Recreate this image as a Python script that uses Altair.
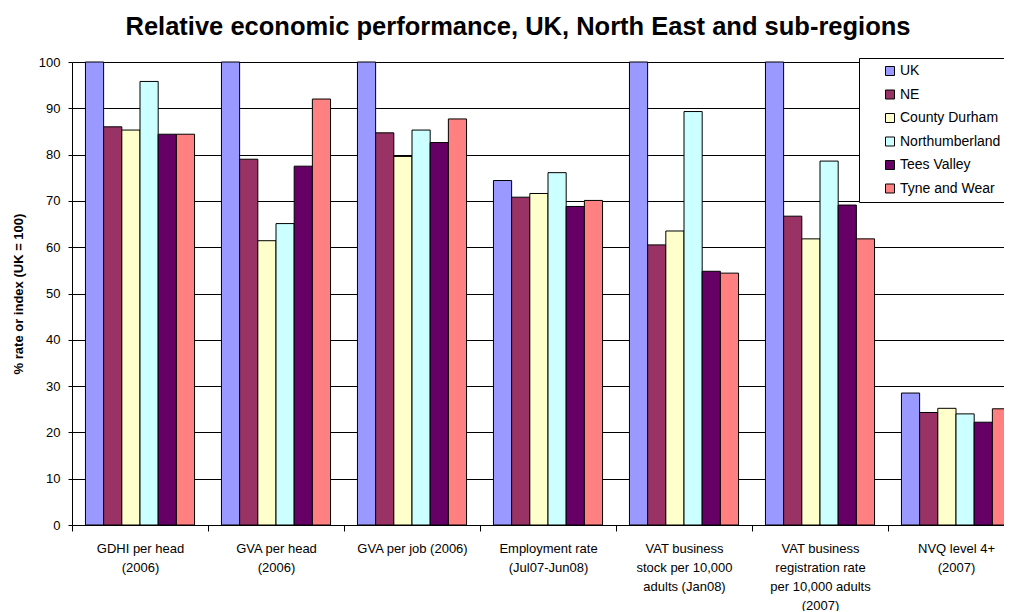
import altair as alt
import pandas as pd

categories = [
    "GDHI per head|(2006)",
    "GVA per head|(2006)",
    "GVA per job (2006)",
    "Employment rate|(Jul07-Jun08)",
    "VAT business|stock per 10,000|adults (Jan08)",
    "VAT business|registration rate|per 10,000 adults|(2007)",
    "NVQ level 4+|(2007)",
]
series = ["UK", "NE", "County Durham", "Northumberland", "Tees Valley", "Tyne and Wear"]
colors = ["#9999FF", "#993366", "#FFFFCC", "#CCFFFF", "#660066", "#FF8080"]

uk = [100, 100, 100, 74.4, 100, 100, 28.5]
ne = [86.0, 79.0, 84.7, 70.8, 60.5, 66.7, 24.3]
county_durham = [85.3, 61.4, 79.6, 71.6, 63.5, 61.8, 25.2]
northumberland = [95.8, 65.1, 85.3, 76.1, 89.3, 78.6, 24.0]
tees_valley = [84.4, 77.5, 82.6, 68.8, 54.8, 69.1, 22.2]
tyne_and_wear = [84.4, 92.0, 87.7, 70.1, 54.4, 61.8, 25.1]

values = [uk, ne, county_durham, northumberland, tees_valley, tyne_and_wear]
rows = []
for s, vals in zip(series, values):
    for c, v in zip(categories, vals):
        rows.append({"category": c, "series": s, "value": v})
df = pd.DataFrame(rows)

FONT = "Liberation Sans"

chart = (
    alt.Chart(df)
    .mark_bar(stroke="black", strokeWidth=1)
    .encode(
        x=alt.X(
            "category:N",
            sort=categories,
            scale=alt.Scale(paddingInner=0, paddingOuter=0, range=[0, 952]),
            axis=alt.Axis(
                title=None,
                labelAngle=0,
                labelExpr="split(datum.label, '|')",
                labelFont=FONT,
                labelFontSize=13,
                labelLineHeight=19,
                labelColor="black",
                labelPadding=11,
                labelBaseline="top",
                tickBand="extent",
                tickColor="black",
                tickSize=6,
                domainColor="black",
                grid=False,
            ),
        ),
        xOffset=alt.XOffset(
            "series:N",
            sort=series,
            scale=alt.Scale(paddingInner=0, paddingOuter=0.74),
        ),
        y=alt.Y(
            "value:Q",
            scale=alt.Scale(domain=[0, 100], nice=False),
            axis=alt.Axis(
                title="% rate or index (UK = 100)",
                titleFont=FONT,
                titleFontSize=13,
                titleFontWeight="bold",
                titleColor="black",
                titlePadding=13,
                values=list(range(0, 101, 10)),
                labelFont=FONT,
                labelFontSize=13,
                labelColor="black",
                labelPadding=8,
                tickColor="black",
                tickSize=4,
                domainColor="black",
                gridColor="black",
                gridWidth=1,
                gridOpacity=1,
            ),
        ),
        color=alt.Color(
            "series:N",
            sort=series,
            scale=alt.Scale(domain=series, range=colors),
            legend=alt.Legend(
                title=None,
                orient="none",
                legendX=787,
                legendY=-4,
                symbolType="square",
                symbolSize=81,
                symbolStrokeColor="black",
                symbolStrokeWidth=1,
                symbolOffset=18,
                labelFont=FONT,
                labelFontSize=14,
                labelColor="black",
                labelOffset=3,
                rowPadding=9.5,
                padding=6,
                fillColor="white",
                strokeColor="black",
            ),
        ),
    )
    .properties(
        width=932,
        height=463,
        title=alt.TitleParams(
            "Relative economic performance, UK, North East and sub-regions",
            font=FONT,
            fontSize=25.5,
            fontWeight="bold",
            color="black",
            anchor="middle",
            dx=-20,
            offset=16,
        ),
        autosize=alt.AutoSizeParams(type="none"),
        padding={"left": 64, "top": 54, "right": 0, "bottom": 86},
    )
    .configure_view(stroke=None)
)

chart.save("out.html", embed_options={"renderer": "svg", "actions": False})
